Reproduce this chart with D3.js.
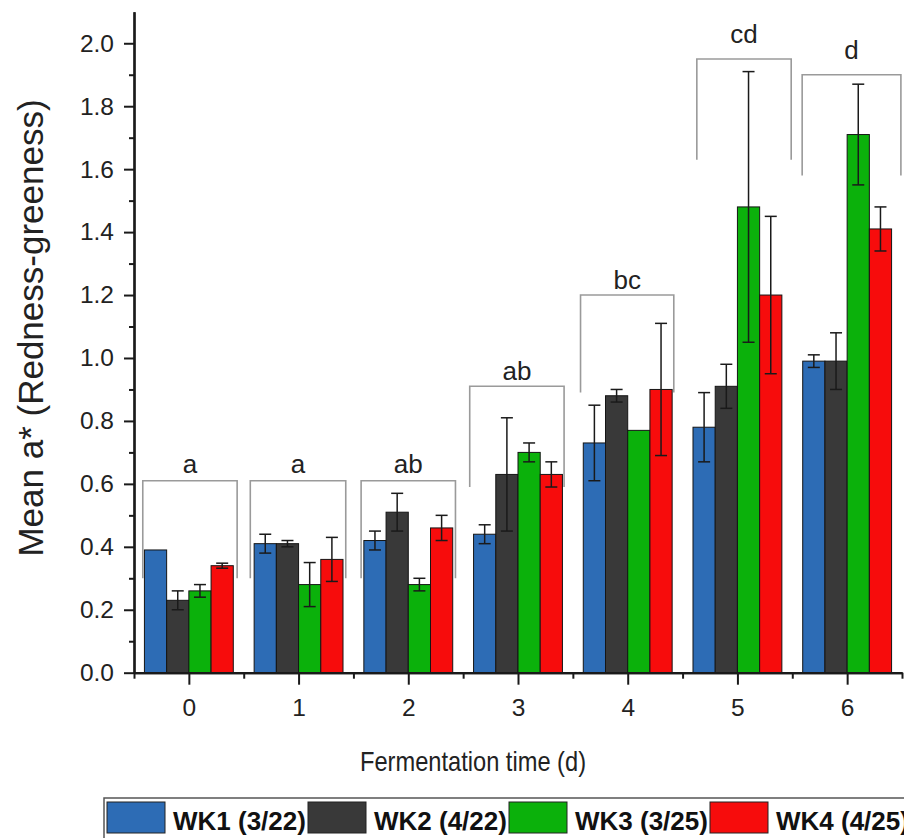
<!DOCTYPE html>
<html><head><meta charset="utf-8">
<script src="https://cdn.jsdelivr.net/npm/d3@7"></script>
<style>
html,body{margin:0;padding:0;background:#fff;}
svg{display:block;font-family:"Liberation Sans",Arial,Helvetica,sans-serif;}
</style></head>
<body><svg id="c" width="904" height="838"></svg>
<script>
const days = [0, 1, 2, 3, 4, 5, 6];
const seriesNames = ["WK1 (3/22)", "WK2 (4/22)", "WK3 (3/25)", "WK4 (4/25)"];
const wk1 = [0.39, 0.41, 0.42, 0.44, 0.73, 0.78, 0.99];
const wk1Err = [0.0, 0.03, 0.03, 0.03, 0.12, 0.11, 0.02];
const wk2 = [0.23, 0.41, 0.51, 0.63, 0.88, 0.91, 0.99];
const wk2Err = [0.03, 0.01, 0.06, 0.18, 0.02, 0.07, 0.09];
const wk3 = [0.26, 0.28, 0.28, 0.70, 0.77, 1.48, 1.71];
const wk3Err = [0.02, 0.07, 0.02, 0.03, 0.0, 0.43, 0.16];
const wk4 = [0.34, 0.36, 0.46, 0.63, 0.90, 1.20, 1.41];
const wk4Err = [0.008, 0.07, 0.04, 0.04, 0.21, 0.25, 0.07];
const yTicks = [0, 0.2, 0.4, 0.6, 0.8, 1.0, 1.2, 1.4, 1.6, 1.8, 2.0];
const letters = ["a", "a", "ab", "ab", "bc", "cd", "d"];
const bracketFrom = [-0.42, 0.56, 1.57, 2.56, 3.57, 4.63, 5.59];
const bracketTo = [0.44, 1.43, 2.43, 3.42, 4.42, 5.49, 6.49];
const bracketTop = [0.61, 0.61, 0.61, 0.91, 1.20, 1.95, 1.90];
const bracketBottom = [0.30, 0.30, 0.30, 0.59, 0.89, 1.63, 1.58];
const letterY = [0.635, 0.635, 0.635, 0.93, 1.22, 2.0, 1.95];
const colors = ["#2d6cb5", "#393939", "#0bb10b", "#f70c0c"];

const values = [wk1, wk2, wk3, wk4];
const errs = [wk1Err, wk2Err, wk3Err, wk4Err];

const svg = d3.select("#c");
const x = d3.scaleLinear().domain([-0.5, 6.5]).range([134, 902]);
const y = d3.scaleLinear().domain([0, 2.1]).range([672.7, 11.8]);
const barW = 0.2025;

// brackets
const gb = svg.append("g");
days.forEach((d, i) => {
  gb.append("path")
    .attr("d", `M${x(bracketFrom[i])},${y(bracketBottom[i])}V${y(bracketTop[i])}H${x(bracketTo[i])}V${y(bracketBottom[i])}`)
    .attr("fill", "none").attr("stroke", "#9a9a9a").attr("stroke-width", 1.6);
  gb.append("text")
    .attr("x", x((bracketFrom[i] + bracketTo[i]) / 2))
    .attr("y", y(letterY[i]))
    .attr("text-anchor", "middle")
    .attr("font-size", 26).attr("fill", "#222")
    .text(letters[i]);
});

// bars
const flat = [];
values.forEach((vals, s) => vals.forEach((v, g) => flat.push({s, g, v, e: errs[s][g]})));
svg.append("g").selectAll("rect").data(flat).join("rect")
  .attr("x", d => x(days[d.g] - 2 * barW + d.s * barW))
  .attr("y", d => y(d.v))
  .attr("width", d => x(barW) - x(0))
  .attr("height", d => y(0) - y(d.v))
  .attr("fill", d => colors[d.s])
  .attr("stroke", "#151515").attr("stroke-width", 1);

// error bars
const ge = svg.append("g").attr("stroke", "#1a1a1a").attr("stroke-width", 1.5);
flat.filter(d => d.e > 0).forEach(d => {
  const cx = x(days[d.g] - 2 * barW + (d.s + 0.5) * barW);
  const cap = 6;
  ge.append("line").attr("x1", cx).attr("x2", cx).attr("y1", y(d.v - d.e)).attr("y2", y(d.v + d.e));
  ge.append("line").attr("x1", cx - cap).attr("x2", cx + cap).attr("y1", y(d.v + d.e)).attr("y2", y(d.v + d.e));
  ge.append("line").attr("x1", cx - cap).attr("x2", cx + cap).attr("y1", y(d.v - d.e)).attr("y2", y(d.v - d.e));
});

// axes
const yMinor = d3.range(1, 21, 2).map(k => k / 10);
const xMinor = d3.range(-0.5, 7, 1);
const ax = svg.append("g");
ax.append("g").attr("transform", `translate(${x(-0.5)},0)`)
  .call(d3.axisLeft(y).tickValues(yMinor).tickSize(5).tickFormat("").tickSizeOuter(0));
ax.append("g").attr("transform", `translate(${x(-0.5)},0)`)
  .call(d3.axisLeft(y).tickValues(yTicks).tickSize(10).tickPadding(10).tickFormat(d3.format(".1f")).tickSizeOuter(0));
ax.append("g").attr("transform", `translate(0,${y(0)})`)
  .call(d3.axisBottom(x).tickValues(xMinor).tickSize(6).tickFormat("").tickSizeOuter(0));
ax.append("g").attr("transform", `translate(0,${y(0)})`)
  .call(d3.axisBottom(x).tickValues(days).tickSize(12).tickPadding(14).tickFormat(d3.format("d")).tickSizeOuter(0));
ax.selectAll("path.domain").attr("stroke", "#1a1a1a").attr("stroke-width", 2.2);
ax.selectAll(".tick line").attr("stroke", "#1a1a1a").attr("stroke-width", 2);
ax.selectAll(".tick text").attr("font-size", 24.5).attr("fill", "#222")
  .attr("font-family", '"Liberation Sans",Arial,sans-serif');

// axis titles
svg.append("text")
  .attr("transform", "translate(43,328) rotate(-90)")
  .attr("text-anchor", "middle").attr("font-size", 35).attr("fill", "#222")
  .text("Mean a* (Redness-greeness)");
svg.append("text")
  .attr("x", 473).attr("y", 771)
  .attr("text-anchor", "middle").attr("font-size", 28).attr("fill", "#222")
  .attr("textLength", 226).attr("lengthAdjust", "spacingAndGlyphs")
  .text("Fermentation time (d)");

// legend
const lg = svg.append("g");
lg.append("rect").attr("x", 104).attr("y", 798).attr("width", 820).attr("height", 60)
  .attr("fill", "#fff").attr("stroke", "#555").attr("stroke-width", 1.5);
seriesNames.forEach((nm, i) => {
  const lx = 107 + i * 201;
  lg.append("rect").attr("x", lx).attr("y", 802).attr("width", 58).attr("height", 31)
    .attr("fill", colors[i]).attr("stroke", "#222").attr("stroke-width", 1);
  lg.append("text").attr("x", lx + 66).attr("y", 830)
    .attr("font-size", 26).attr("font-weight", "bold").attr("fill", "#111")
    .text(nm);
});
</script></body></html>
